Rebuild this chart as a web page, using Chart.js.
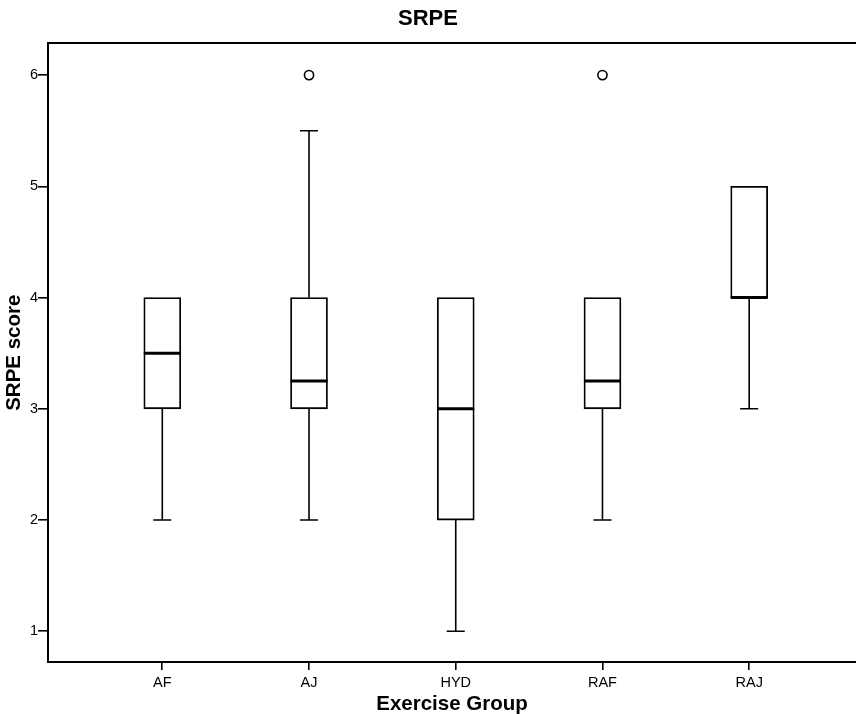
<!DOCTYPE html>
<html>
<head>
<meta charset="utf-8">
<script src="https://cdn.jsdelivr.net/npm/chart.js@4.4.1/dist/chart.umd.min.js"></script>
<style>
  html, body { margin: 0; padding: 0; background: #fff; }
  canvas { display: block; }
</style>
</head>
<body>
<canvas id="c" width="856" height="714"></canvas>
<script>
// ---- Data ----
const groups = ['AF', 'AJ', 'HYD', 'RAF', 'RAJ'];
const whiskerLow = [2, 2, 1, 2, 3];
const q1 = [3, 3, 2, 3, 4];
const medians = [3.5, 3.25, 3, 3.25, 4];
const q3 = [4, 4, 4, 4, 5];
const whiskerHigh = [4, 5.5, 4, 4, 5];
const outlierGroup = [1, 3];
const outlierValue = [6, 6];
const yTickValues = [1, 2, 3, 4, 5, 6];

const FONT = "'Liberation Sans', Arial, Helvetica, sans-serif";
const X_MIN = -0.779, X_MAX = 4.728;
const Y_MIN = 0.724, Y_MAX = 6.285;

const boxData = groups.map((g, i) => ({ x: i, y: [q1[i], q3[i]] }));
const outlierData = outlierGroup.map((gi, k) => ({ x: gi, y: outlierValue[k] }));

const boxPlotPlugin = {
  id: 'boxWhiskers',
  afterDatasetsDraw(chart) {
    const { ctx, scales: { x, y } } = chart;
    const capHalf = 9, boxHalf = 18.5;
    ctx.save();
    ctx.strokeStyle = '#000';
    ctx.lineCap = 'butt';
    groups.forEach((g, i) => {
      const px = x.getPixelForValue(i);
      ctx.lineWidth = 1.6;
      ctx.beginPath();
      if (whiskerHigh[i] > q3[i]) {
        const yh = y.getPixelForValue(whiskerHigh[i]);
        ctx.moveTo(px, y.getPixelForValue(q3[i]));
        ctx.lineTo(px, yh);
        ctx.moveTo(px - capHalf, yh);
        ctx.lineTo(px + capHalf, yh);
      }
      if (whiskerLow[i] < q1[i]) {
        const yl = y.getPixelForValue(whiskerLow[i]);
        ctx.moveTo(px, y.getPixelForValue(q1[i]));
        ctx.lineTo(px, yl);
        ctx.moveTo(px - capHalf, yl);
        ctx.lineTo(px + capHalf, yl);
      }
      ctx.stroke();
      ctx.lineWidth = 3;
      ctx.beginPath();
      const ym = y.getPixelForValue(medians[i]);
      ctx.moveTo(px - boxHalf, ym);
      ctx.lineTo(px + boxHalf, ym);
      ctx.stroke();
    });
    ctx.restore();
  }
};

new Chart(document.getElementById('c'), {
  type: 'bar',
  data: {
    datasets: [
      {
        type: 'bar',
        data: boxData,
        backgroundColor: '#ffffff',
        borderColor: '#000000',
        borderWidth: 1.8,
        borderSkipped: false,
        barThickness: 37,
        order: 2
      },
      {
        type: 'scatter',
        data: outlierData,
        pointStyle: 'circle',
        pointRadius: 4.6,
        pointBorderWidth: 1.6,
        pointBackgroundColor: '#ffffff',
        pointBorderColor: '#000000',
        order: 1
      }
    ]
  },
  options: {
    responsive: false,
    animation: false,
    layout: { padding: 0, autoPadding: false },
    plugins: {
      legend: { display: false },
      tooltip: { enabled: false },
      title: {
        display: true,
        text: 'SRPE',
        color: '#000',
        font: { family: FONT, size: 22, weight: 'bold' },
        padding: { top: 6, bottom: 11 }
      }
    },
    scales: {
      x: {
        type: 'linear',
        position: 'bottom',
        min: X_MIN,
        max: X_MAX,
        offset: false,
        afterFit(s) { s.height = 52; s.paddingLeft = 0; s.paddingRight = 0; },
        ticks: {
          stepSize: 1,
          includeBounds: false,
          autoSkip: false,
          maxRotation: 0,
          color: '#000',
          padding: 4,
          font: { family: FONT, size: 14.5 },
          callback: (v) => (Number.isInteger(v) && groups[v] !== undefined ? groups[v] : '')
        },
        grid: {
          offset: false,
          drawOnChartArea: false,
          drawTicks: true,
          tickLength: 8,
          color: '#000',
          lineWidth: 1.6
        },
        border: { display: true, color: '#000', width: 2 },
        title: {
          display: true,
          text: 'Exercise Group',
          color: '#000',
          font: { family: FONT, size: 20.5, weight: 'bold' },
          padding: { top: 0, bottom: -3 }
        }
      },
      x2: {
        type: 'linear',
        position: 'top',
        min: X_MIN,
        max: X_MAX,
        afterFit(s) { s.height = 0; s.paddingLeft = 0; s.paddingRight = 0; },
        ticks: { display: false },
        grid: { display: false },
        border: { display: true, color: '#000', width: 2 }
      },
      y: {
        type: 'linear',
        min: Y_MIN,
        max: Y_MAX,
        afterFit(s) { s.width = 48; s.paddingTop = 0; s.paddingBottom = 0; },
        afterBuildTicks(s) { s.ticks = yTickValues.map(v => ({ value: v })); },
        ticks: {
          stepSize: 1,
          includeBounds: false,
          color: '#000',
          padding: 0,
          font: { family: FONT, size: 14.5 }
        },
        grid: {
          drawOnChartArea: false,
          drawTicks: true,
          tickLength: 10,
          color: '#000',
          lineWidth: 1.6
        },
        border: { display: true, color: '#000', width: 2 },
        title: {
          display: true,
          text: 'SRPE score',
          color: '#000',
          font: { family: FONT, size: 20.5, weight: 'bold' },
          padding: { top: 2, bottom: 0 }
        }
      }
    }
  },
  plugins: [boxPlotPlugin]
});
</script>
</body>
</html>
